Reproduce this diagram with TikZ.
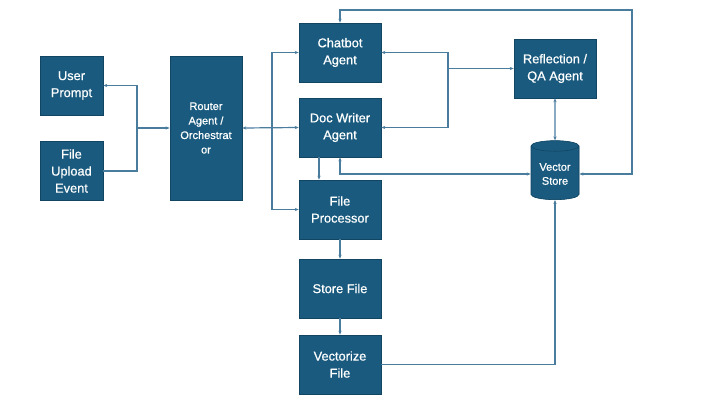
\documentclass[tikz,border=0pt]{standalone}
\usepackage{fontspec}
\setmainfont{Liberation Sans}
\newfontfamily\agfont{Liberation Sans}[FakeBold=0.7]
\usetikzlibrary{arrows.meta,shapes.geometric}
\definecolor{agBox}{HTML}{195A7E}
\definecolor{agEdge}{HTML}{124562}
\definecolor{agLine}{HTML}{4A7C9E}
\definecolor{agTop}{HTML}{7FA5BD}
\tikzset{
  % Process boxes: all alike, dark teal with white text.
  ag/box/.style={
    draw=agEdge, fill=agBox, line width=0.6pt, text=white, align=center,
    font=\agfont\fontsize{12.8}{17}\selectfont, inner sep=2pt,
    minimum width=82pt, minimum height=59pt
  },
  % Data store.
  ag/store/.style={
    ag/box, cylinder, shape border rotate=90, aspect=0.3,
    cylinder uses custom fill, cylinder body fill=agBox, cylinder end fill=agTop,
    minimum width=48pt, minimum height=59pt, font=\agfont\fontsize{11}{14}\selectfont
  },
}
\begin{document}
\begin{tikzpicture}[x=1pt,y=-1pt,
  msg/.style={-{Stealth[length=4pt,width=3.2pt]}, draw=agLine, line width=1.2pt},
  dbl/.style={{Stealth[length=4pt,width=3.2pt]}-{Stealth[length=4pt,width=3.2pt]},
              draw=agLine, line width=1.2pt},
  wire/.style={draw=agLine, line width=1.2pt}]
  \useasboundingbox (0,0) rectangle (720,405);

  \node[ag/box, minimum width=63pt] (user) at (71.5,85.5) {User\\Prompt};
  \node[ag/box, minimum width=63pt] (upload) at (71.5,171) {File\\Upload\\Event};
  \node[ag/box, minimum width=72pt, minimum height=144pt,
        font=\agfont\fontsize{11}{14.5}\selectfont] (router) at (206,128)
       {Router\\Agent /\\Orchestrat\\or};

  \node[ag/box] (chat) at (340,52.5) {Chatbot\\Agent};
  \node[ag/box] (docw) at (340,127.5) {Doc Writer\\Agent};
  \node[ag/box] (fproc) at (340,209.5) {File\\Processor};
  \node[ag/box] (store) at (340,288.5) {Store File};
  \node[ag/box] (vecf) at (340,364.5) {Vectorize\\File};

  \node[ag/box] (refl) at (555,68.5) {Reflection /\\QA Agent};
  \node[ag/store] (vstore) at (555,174) {Vector\\Store};

  \coordinate (jl) at (137,128);
  \coordinate (jr) at (272,128);
  \coordinate (jq) at (448,68.5);
  \coordinate (tr) at (632,10);

  % inputs into the router
  \draw[wire] (upload.east) -| (jl);
  \draw[msg] (jl) |- (user.east);
  \draw[msg] (jl) -- (router.west);

  % router to the agents
  \draw[dbl] (router.east) -- (docw.west);
  \draw[msg] (jr) |- (chat.west);
  \draw[msg] (jr) |- (fproc.west);

  % reflection loop
  \draw[msg] (jq) |- (chat.east);
  \draw[msg] (jq) |- (docw.east);
  \draw[msg] (jq) -- (refl.west);
  \draw[dbl] (refl.south) -- (vstore.north);
  \draw[dbl] (chat.north) |- (tr) |- (vstore.east);
  \draw[dbl] (docw.south) |- (vstore.west);

  % file pipeline
  \draw[msg] ([xshift=-21pt]docw.south) -- ([xshift=-21pt]fproc.north);
  \draw[msg] (fproc) -- (store);
  \draw[msg] (store) -- (vecf);
  \draw[msg] (vecf.east) -| (vstore.south);
\end{tikzpicture}
\end{document}
